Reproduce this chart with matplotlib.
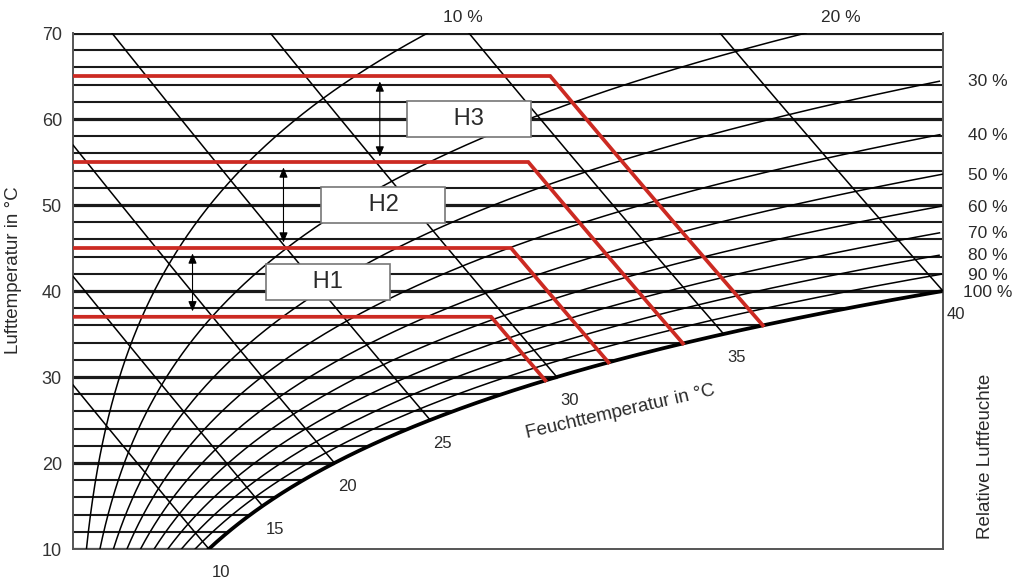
import numpy as np
import matplotlib.pyplot as plt

plt.rcParams['font.family'] = ['Liberation Sans', 'DejaVu Sans']

# chart content
air_temps = list(range(10, 71, 2))              # isotherms in °C
rel_humidity = [10, 20, 30, 40, 50, 60, 70, 80, 90, 100]   # %
wet_bulb = [10, 15, 20, 25, 30, 35, 40]         # wet-bulb lines in °C
zone_air_temp = [37, 45, 55, 65]                # red limits, air temperature
zone_wet_bulb = [29.6, 31.7, 33.9, 36.0]        # red limits, wet-bulb end
zone_names = ['H1', 'H2', 'H3']
zone_label_x = [14.3, 17.4, 22.2]               # g/kg
zone_label_t = [41, 50, 60]
arrow_x = [6.7, 11.8, 17.2]

P = 1013.25


def p_sat(t):
    return 6.112 * np.exp(17.62 * t / (243.12 + t))


def mix_ratio(t, rh):
    e = rh / 100 * p_sat(t)
    return 622 * e / (P - e)


def enthalpy(t, x):
    return 1.006 * t + x / 1000 * (2501 + 1.86 * t)


def x_on_enthalpy(h, t):
    return 1000 * (h - 1.006 * t) / (2501 + 1.86 * t)


XMAX = mix_ratio(40, 100)
line_col = '#1a1a1a'
red = '#cc2a22'
txt_col = '#2a2a2a'

fig = plt.figure(figsize=(10.15, 5.82), dpi=100)
ax = fig.add_axes([73 / 1015, 33 / 582, 870 / 1015, 516 / 582])
ax.set_xlim(0, XMAX)
ax.set_ylim(10, 70)

# isotherms, ending at the saturation curve
for t in air_temps:
    x_end = min(mix_ratio(t, 100), XMAX)
    lw = 2.3 if t % 10 == 0 else 1.5
    ax.plot([0, x_end], [t, t], color=line_col, lw=lw, solid_capstyle='butt', zorder=2)

# relative humidity curves
tt = np.linspace(10, 70, 600)
for rh in rel_humidity:
    xx = mix_ratio(tt, rh)
    m = xx <= XMAX * 1.0005
    lw = 2.7 if rh == 100 else 1.1
    ax.plot(xx[m], tt[m], color='black', lw=lw, zorder=3)

# wet-bulb (constant enthalpy) lines
for tw in wet_bulb:
    h = enthalpy(tw, mix_ratio(tw, 100))
    t_line = np.linspace(tw, 70, 300)
    xx = x_on_enthalpy(h, t_line)
    m = xx >= 0
    ax.plot(xx[m], t_line[m], color='black', lw=1.1, zorder=3)
    ax.annotate(str(tw), (mix_ratio(tw, 100), tw), xytext=(9, -17),
                textcoords='offset points', ha='center', va='center',
                fontsize=12, color=txt_col)

# red limits
for t_air, tw in zip(zone_air_temp, zone_wet_bulb):
    h = enthalpy(tw, mix_ratio(tw, 100))
    t_line = np.linspace(tw, t_air, 50)
    xs = list(x_on_enthalpy(h, t_line))[::-1]
    ts = list(t_line)[::-1]
    ax.plot([0] + xs, [t_air] + ts, color=red, lw=2.7, zorder=5,
            solid_joinstyle='miter')

# double arrows between the limits
for xa, lo, hi in zip(arrow_x, zone_air_temp[:-1], zone_air_temp[1:]):
    ax.annotate('', xy=(xa, hi - 0.3), xytext=(xa, lo + 0.3),
                arrowprops=dict(arrowstyle='<|-|>,head_length=0.6,head_width=0.25',
                                color='black', lw=0.8), zorder=6)

# zone boxes
for name, bx, bt in zip(zone_names, zone_label_x, zone_label_t):
    ax.text(bx, bt, '      ' + name + '      ', ha='center', va='center',
            fontsize=17, color=txt_col, zorder=7,
            bbox=dict(boxstyle='square,pad=0.3', fc='white', ec='#777777', lw=1.2))

# humidity labels
for rh in rel_humidity:
    if mix_ratio(70, rh) <= XMAX:
        ax.annotate(f'{rh} %', (mix_ratio(70, rh), 70), xytext=(25, 11),
                    textcoords='offset points', ha='center', va='center',
                    fontsize=12.5, color=txt_col, annotation_clip=False)
    else:
        lo, hi = 10.0, 70.0
        for _ in range(50):
            mid = (lo + hi) / 2
            if mix_ratio(mid, rh) > XMAX:
                hi = mid
            else:
                lo = mid
        ax.annotate(f'{rh} %', (XMAX, lo), xytext=(32, -1),
                    textcoords='offset points', ha='center', va='center',
                    fontsize=12.5, color=txt_col, annotation_clip=False)

ax.text(30.7, 25.9, 'Feuchttemperatur in °C', rotation=13, ha='center',
        va='center', fontsize=13.5, color=txt_col)

# axes styling
ax.set_xticks([])
ax.set_yticks([10, 20, 30, 40, 50, 60, 70])
ax.tick_params(axis='y', length=0, pad=8, labelsize=13, labelcolor='#333333')
for side in ['left', 'right', 'bottom']:
    ax.spines[side].set_color('#555555')
    ax.spines[side].set_linewidth(1.4)
ax.spines['top'].set_visible(False)

fig.text(14 / 1015, 1 - 270 / 582, 'Lufttemperatur in °C', rotation=90,
         ha='center', va='center', fontsize=13.5, color=txt_col)
fig.text(985 / 1015, 1 - 456 / 582, 'Relative Luftfeuchte', rotation=90,
         ha='center', va='center', fontsize=13.5, color=txt_col)

fig.savefig('out.png', dpi=100)
